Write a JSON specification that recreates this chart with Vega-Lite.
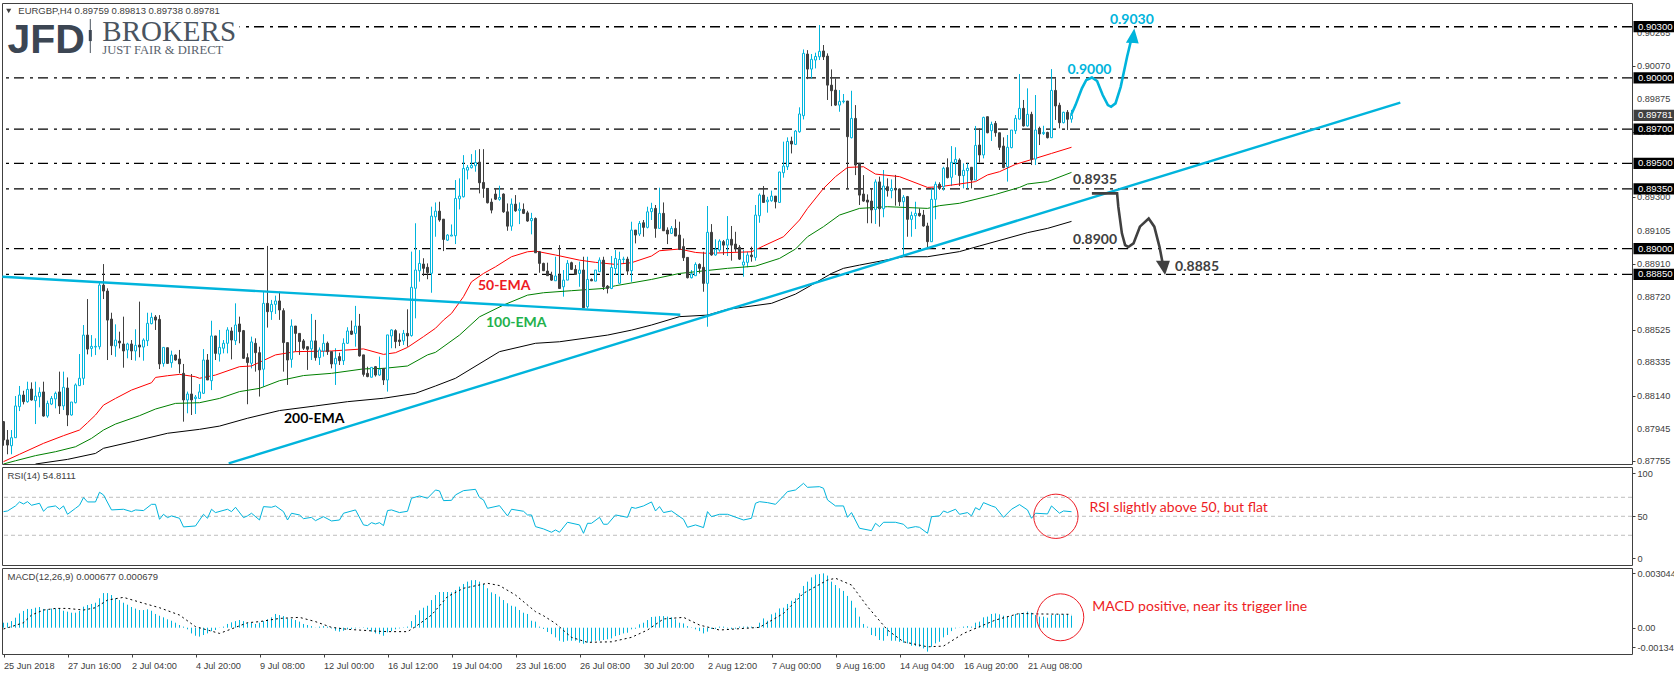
{"$schema":"https://vega.github.io/schema/vega-lite/v6.json","background":"#ffffff","padding":{"left":0,"top":2,"right":0,"bottom":0},"autosize":{"type":"pad"},"bounds":"flush","spacing":3,
"config":{"scale":{"continuousPadding":0},"view":{"stroke":"#404040","strokeWidth":1},"axis":{"grid":false,"title":null,"domain":false,"tickColor":"#404040","tickSize":3,"labelColor":"#404040","labelFont":"Liberation Sans","labelFontSize":9.2,"labelOverlap":false,"labelPadding":2},"text":{"font":"Liberation Sans"}},
"datasets":{
"bars":[
{"i":0,"o":0.87987,"h":0.87991,"l":0.87846,"c":0.8788,"m":0.00028},{"i":1,"o":0.8788,"h":0.87938,"l":0.87796,"c":0.8785,"m":0.00028},{"i":2,"o":0.87846,"h":0.87938,"l":0.87796,"c":0.87893,"m":0.00037},{"i":3,"o":0.87893,"h":0.88137,"l":0.87893,"c":0.88079,"m":0.00056},{"i":4,"o":0.88075,"h":0.88196,"l":0.88049,"c":0.88143,"m":0.0008},{"i":5,"o":0.88143,"h":0.88168,"l":0.88088,"c":0.88104,"m":0.00094},{"i":6,"o":0.88104,"h":0.88221,"l":0.88098,"c":0.88176,"m":0.00105},{"i":7,"o":0.88178,"h":0.88217,"l":0.8811,"c":0.88114,"m":0.00105},{"i":8,"o":0.8811,"h":0.88221,"l":0.87973,"c":0.88137,"m":0.00112},{"i":9,"o":0.88133,"h":0.88188,"l":0.88071,"c":0.88159,"m":0.00116},
{"i":10,"o":0.88161,"h":0.88221,"l":0.88016,"c":0.8802,"m":0.00105},{"i":11,"o":0.8802,"h":0.8811,"l":0.8801,"c":0.88094,"m":0.00103},{"i":12,"o":0.8809,"h":0.88137,"l":0.88084,"c":0.88123,"m":0.00107},{"i":13,"o":0.8812,"h":0.88163,"l":0.88065,"c":0.88153,"m":0.00108},{"i":14,"o":0.88161,"h":0.8828,"l":0.88032,"c":0.88079,"m":0.00105},{"i":15,"o":0.88079,"h":0.8828,"l":0.88055,"c":0.88188,"m":0.00095},{"i":16,"o":0.88184,"h":0.88246,"l":0.87961,"c":0.88026,"m":0.0009},{"i":17,"o":0.88026,"h":0.88102,"l":0.88022,"c":0.88102,"m":0.00084},{"i":18,"o":0.88098,"h":0.88211,"l":0.88094,"c":0.88202,"m":0.00084},{"i":19,"o":0.88198,"h":0.88383,"l":0.88196,"c":0.88241,"m":0.00094},
{"i":20,"o":0.88241,"h":0.88553,"l":0.88202,"c":0.88494,"m":0.00118},{"i":21,"o":0.88494,"h":0.88705,"l":0.88381,"c":0.88412,"m":0.00127},{"i":22,"o":0.88416,"h":0.88494,"l":0.88367,"c":0.88428,"m":0.00133},{"i":23,"o":0.88424,"h":0.88475,"l":0.88377,"c":0.88428,"m":0.0014},{"i":24,"o":0.88426,"h":0.88801,"l":0.8841,"c":0.88787,"m":0.00165},{"i":25,"o":0.88787,"h":0.8891,"l":0.88705,"c":0.88752,"m":0.00194},{"i":26,"o":0.88752,"h":0.88768,"l":0.88348,"c":0.88582,"m":0.00194},{"i":27,"o":0.88588,"h":0.88625,"l":0.88377,"c":0.88432,"m":0.00183},{"i":28,"o":0.8843,"h":0.88557,"l":0.88367,"c":0.88465,"m":0.00165},{"i":29,"o":0.88459,"h":0.88514,"l":0.88416,"c":0.88448,"m":0.00155},
{"i":30,"o":0.88442,"h":0.88602,"l":0.88303,"c":0.88401,"m":0.0014},{"i":31,"o":0.88407,"h":0.88449,"l":0.88358,"c":0.88442,"m":0.00129},{"i":32,"o":0.88442,"h":0.88465,"l":0.88348,"c":0.88401,"m":0.00116},{"i":33,"o":0.88401,"h":0.88528,"l":0.88344,"c":0.88434,"m":0.00107},{"i":34,"o":0.88436,"h":0.8869,"l":0.88364,"c":0.88424,"m":0.00099},{"i":35,"o":0.88424,"h":0.88475,"l":0.88344,"c":0.88465,"m":0.00099},{"i":36,"o":0.88461,"h":0.88625,"l":0.8843,"c":0.88563,"m":0.00103},{"i":37,"o":0.88561,"h":0.88625,"l":0.88557,"c":0.88598,"m":0.00095},{"i":38,"o":0.886,"h":0.88611,"l":0.88524,"c":0.88582,"m":0.00077},{"i":39,"o":0.88586,"h":0.88611,"l":0.88295,"c":0.88325,"m":0.00067},
{"i":40,"o":0.88328,"h":0.88422,"l":0.88309,"c":0.88422,"m":0.00058},{"i":41,"o":0.8842,"h":0.8842,"l":0.88325,"c":0.88328,"m":0.00047},{"i":42,"o":0.88332,"h":0.88403,"l":0.88303,"c":0.88377,"m":0.00039},{"i":43,"o":0.88377,"h":0.88381,"l":0.88344,"c":0.88348,"m":0.00028},{"i":44,"o":0.88354,"h":0.88407,"l":0.8827,"c":0.88325,"m":0.00015},{"i":45,"o":0.8827,"h":0.88325,"l":0.87987,"c":0.88114,"m":0.00006},{"i":46,"o":0.88114,"h":0.88163,"l":0.88036,"c":0.88149,"m":-0.00009},{"i":47,"o":0.88149,"h":0.88266,"l":0.88026,"c":0.88114,"m":-0.00032},{"i":48,"o":0.88122,"h":0.88143,"l":0.88032,"c":0.88131,"m":-0.00045},{"i":49,"o":0.88123,"h":0.88207,"l":0.88123,"c":0.88161,"m":-0.0005},
{"i":50,"o":0.88153,"h":0.88412,"l":0.88149,"c":0.88348,"m":-0.00041},{"i":51,"o":0.88348,"h":0.88383,"l":0.88231,"c":0.88231,"m":-0.00032},{"i":52,"o":0.88227,"h":0.88578,"l":0.88172,"c":0.88489,"m":-0.00019},{"i":53,"o":0.88489,"h":0.88489,"l":0.88348,"c":0.88387,"m":-0.00013},{"i":54,"o":0.88383,"h":0.88524,"l":0.88339,"c":0.88422,"m":0.00001},{"i":55,"o":0.88417,"h":0.88465,"l":0.88387,"c":0.88446,"m":0.00006},{"i":56,"o":0.88446,"h":0.8854,"l":0.88387,"c":0.88524,"m":0.00021},{"i":57,"o":0.88518,"h":0.8854,"l":0.88352,"c":0.88465,"m":0.0003},{"i":58,"o":0.88461,"h":0.8868,"l":0.88436,"c":0.88553,"m":0.00037},{"i":59,"o":0.88559,"h":0.88602,"l":0.88446,"c":0.88514,"m":0.00043},
{"i":60,"o":0.8852,"h":0.88524,"l":0.88354,"c":0.88358,"m":0.00037},{"i":61,"o":0.88362,"h":0.88387,"l":0.88089,"c":0.88333,"m":0.00028},{"i":62,"o":0.88329,"h":0.88485,"l":0.88299,"c":0.88454,"m":0.00028},{"i":63,"o":0.88446,"h":0.88475,"l":0.8828,"c":0.88391,"m":0.00021},{"i":64,"o":0.88391,"h":0.88426,"l":0.88134,"c":0.8829,"m":0.00028},{"i":65,"o":0.88294,"h":0.88748,"l":0.88192,"c":0.8868,"m":0.00037},{"i":66,"o":0.8868,"h":0.89016,"l":0.88538,"c":0.88631,"m":0.00047},{"i":67,"o":0.88631,"h":0.887,"l":0.88583,"c":0.88674,"m":0.00058},{"i":68,"o":0.88674,"h":0.88725,"l":0.88618,"c":0.88694,"m":0.00077},{"i":69,"o":0.88694,"h":0.88748,"l":0.88583,"c":0.88641,"m":0.00071},
{"i":70,"o":0.88637,"h":0.88651,"l":0.8828,"c":0.8845,"m":0.00065},{"i":71,"o":0.8845,"h":0.8845,"l":0.88202,"c":0.88348,"m":0.00052},{"i":72,"o":0.88352,"h":0.88586,"l":0.88303,"c":0.88547,"m":0.00049},{"i":73,"o":0.88547,"h":0.88547,"l":0.88397,"c":0.88504,"m":0.00043},{"i":74,"o":0.88504,"h":0.88504,"l":0.88378,"c":0.88456,"m":0.00034},{"i":75,"o":0.8846,"h":0.88471,"l":0.88407,"c":0.88417,"m":0.00021},{"i":76,"o":0.88426,"h":0.88426,"l":0.8829,"c":0.88411,"m":0.00015},{"i":77,"o":0.88413,"h":0.88618,"l":0.88348,"c":0.8846,"m":0.00009},{"i":78,"o":0.8846,"h":0.88583,"l":0.88344,"c":0.88362,"m":0.00001},{"i":79,"o":0.88362,"h":0.88422,"l":0.88319,"c":0.88407,"m":0.00006},
{"i":80,"o":0.88401,"h":0.88499,"l":0.88368,"c":0.88446,"m":0.00009},{"i":81,"o":0.88446,"h":0.88456,"l":0.88378,"c":0.88397,"m":0.00006},{"i":82,"o":0.88397,"h":0.88397,"l":0.88299,"c":0.88325,"m":-0.00004},{"i":83,"o":0.88325,"h":0.88417,"l":0.88202,"c":0.88358,"m":-0.00017},{"i":84,"o":0.88368,"h":0.88391,"l":0.88319,"c":0.88344,"m":-0.00022},{"i":85,"o":0.88344,"h":0.88475,"l":0.88319,"c":0.88446,"m":-0.00017},{"i":86,"o":0.88446,"h":0.8854,"l":0.88442,"c":0.88518,"m":-0.00009},{"i":87,"o":0.88518,"h":0.88579,"l":0.88495,"c":0.88499,"m":-0.00007},{"i":88,"o":0.88504,"h":0.88665,"l":0.88426,"c":0.88547,"m":-0.00004},{"i":89,"o":0.88547,"h":0.88618,"l":0.88368,"c":0.88372,"m":-0.00001},
{"i":90,"o":0.88378,"h":0.88378,"l":0.88251,"c":0.88264,"m":0.00002},{"i":91,"o":0.8827,"h":0.88309,"l":0.88247,"c":0.88251,"m":-0.00009},{"i":92,"o":0.88247,"h":0.88305,"l":0.88247,"c":0.88305,"m":-0.00022},{"i":93,"o":0.88309,"h":0.88313,"l":0.88251,"c":0.8826,"m":-0.00032},{"i":94,"o":0.8826,"h":0.88368,"l":0.88255,"c":0.88294,"m":-0.00036},{"i":95,"o":0.88299,"h":0.88299,"l":0.88202,"c":0.88231,"m":-0.00045},{"i":96,"o":0.88231,"h":0.88495,"l":0.88163,"c":0.88495,"m":-0.00026},{"i":97,"o":0.88489,"h":0.88528,"l":0.88417,"c":0.88524,"m":-0.00019},{"i":98,"o":0.8852,"h":0.88528,"l":0.88417,"c":0.88456,"m":-0.00009},{"i":99,"o":0.88465,"h":0.88504,"l":0.8843,"c":0.88456,"m":-0.00004},
{"i":100,"o":0.8846,"h":0.88524,"l":0.88436,"c":0.88504,"m":0.00002},{"i":101,"o":0.88504,"h":0.88645,"l":0.88426,"c":0.88489,"m":0.00006},{"i":102,"o":0.88491,"h":0.88983,"l":0.88485,"c":0.88774,"m":0.00037},{"i":103,"o":0.88768,"h":0.89149,"l":0.88592,"c":0.88875,"m":0.00071},{"i":104,"o":0.88871,"h":0.88992,"l":0.88807,"c":0.88914,"m":0.00097},{"i":105,"o":0.8891,"h":0.88944,"l":0.8884,"c":0.88885,"m":0.00112},{"i":106,"o":0.88891,"h":0.88914,"l":0.88821,"c":0.8886,"m":0.00123},{"i":107,"o":0.88856,"h":0.89246,"l":0.88742,"c":0.89191,"m":0.00155},{"i":108,"o":0.89187,"h":0.89271,"l":0.8907,"c":0.8922,"m":0.00183},{"i":109,"o":0.8922,"h":0.89275,"l":0.89158,"c":0.89168,"m":0.002},
{"i":110,"o":0.89173,"h":0.89173,"l":0.88986,"c":0.89054,"m":0.002},{"i":111,"o":0.8905,"h":0.89085,"l":0.89045,"c":0.8908,"m":0.002},{"i":112,"o":0.89074,"h":0.89142,"l":0.89074,"c":0.8908,"m":0.00198},{"i":113,"o":0.89076,"h":0.89402,"l":0.89027,"c":0.89294,"m":0.00211},{"i":114,"o":0.89292,"h":0.89412,"l":0.8923,"c":0.89308,"m":0.0023},{"i":115,"o":0.89304,"h":0.89548,"l":0.893,"c":0.8947,"m":0.00245},{"i":116,"o":0.8946,"h":0.8949,"l":0.89406,"c":0.89476,"m":0.00258},{"i":117,"o":0.89474,"h":0.89554,"l":0.8947,"c":0.89488,"m":0.00266},{"i":118,"o":0.89486,"h":0.89577,"l":0.89451,"c":0.89505,"m":0.00267},{"i":119,"o":0.89507,"h":0.89583,"l":0.89324,"c":0.89386,"m":0.00258},
{"i":120,"o":0.89388,"h":0.89583,"l":0.89298,"c":0.89353,"m":0.00245},{"i":121,"o":0.89353,"h":0.89353,"l":0.89265,"c":0.89269,"m":0.00221},{"i":122,"o":0.89273,"h":0.89294,"l":0.89207,"c":0.89226,"m":0.00198},{"i":123,"o":0.8932,"h":0.89349,"l":0.89285,"c":0.8929,"m":0.00189},{"i":124,"o":0.89289,"h":0.89369,"l":0.89281,"c":0.893,"m":0.00174},{"i":125,"o":0.8932,"h":0.89324,"l":0.8921,"c":0.89216,"m":0.00155},{"i":126,"o":0.89216,"h":0.89265,"l":0.89105,"c":0.89132,"m":0.00137},{"i":127,"o":0.89132,"h":0.89294,"l":0.89105,"c":0.89261,"m":0.00123},{"i":128,"o":0.89261,"h":0.89314,"l":0.89216,"c":0.89222,"m":0.00118},{"i":129,"o":0.89224,"h":0.89271,"l":0.89144,"c":0.89232,"m":0.00099},
{"i":130,"o":0.8923,"h":0.89265,"l":0.89203,"c":0.89207,"m":0.00084},{"i":131,"o":0.8921,"h":0.89222,"l":0.89158,"c":0.89162,"m":0.00077},{"i":132,"o":0.89164,"h":0.8921,"l":0.89084,"c":0.89177,"m":0.00039},{"i":133,"o":0.89177,"h":0.89183,"l":0.88976,"c":0.88976,"m":0.00034},{"i":134,"o":0.88982,"h":0.88986,"l":0.88859,"c":0.88914,"m":0.00006},{"i":135,"o":0.88914,"h":0.88918,"l":0.88869,"c":0.88871,"m":-0.00007},{"i":136,"o":0.88869,"h":0.88918,"l":0.88842,"c":0.88842,"m":-0.00024},{"i":137,"o":0.88846,"h":0.88865,"l":0.88812,"c":0.88816,"m":-0.00036},{"i":138,"o":0.88812,"h":0.88953,"l":0.88812,"c":0.8884,"m":-0.00054},{"i":139,"o":0.88846,"h":0.89021,"l":0.88767,"c":0.88767,"m":-0.00073},
{"i":140,"o":0.88777,"h":0.88875,"l":0.88719,"c":0.88816,"m":-0.00079},{"i":141,"o":0.88816,"h":0.88933,"l":0.88816,"c":0.88914,"m":-0.00073},{"i":142,"o":0.88918,"h":0.88924,"l":0.88875,"c":0.88879,"m":-0.00073},{"i":143,"o":0.88879,"h":0.88904,"l":0.88846,"c":0.88849,"m":-0.00073},{"i":144,"o":0.88855,"h":0.88924,"l":0.88777,"c":0.88875,"m":-0.00084},{"i":145,"o":0.88875,"h":0.88953,"l":0.88654,"c":0.88654,"m":-0.0009},{"i":146,"o":0.8866,"h":0.88953,"l":0.8865,"c":0.8882,"m":-0.00084},{"i":147,"o":0.8882,"h":0.88826,"l":0.8881,"c":0.88812,"m":-0.00079},{"i":148,"o":0.8881,"h":0.88875,"l":0.8881,"c":0.88875,"m":-0.00073},{"i":149,"o":0.88865,"h":0.88949,"l":0.88865,"c":0.88933,"m":-0.00073},
{"i":150,"o":0.88933,"h":0.88953,"l":0.88758,"c":0.88777,"m":-0.00069},{"i":151,"o":0.88781,"h":0.88787,"l":0.88738,"c":0.88767,"m":-0.00065},{"i":152,"o":0.88767,"h":0.88957,"l":0.88763,"c":0.8889,"m":-0.0006},{"i":153,"o":0.88884,"h":0.88992,"l":0.88846,"c":0.88943,"m":-0.00047},{"i":154,"o":0.88797,"h":0.88982,"l":0.88797,"c":0.88937,"m":-0.00041},{"i":155,"o":0.88937,"h":0.88953,"l":0.8891,"c":0.88939,"m":-0.00032},{"i":156,"o":0.88939,"h":0.88953,"l":0.88846,"c":0.88869,"m":-0.00028},{"i":157,"o":0.88871,"h":0.89158,"l":0.88806,"c":0.89109,"m":-0.00009},{"i":158,"o":0.89109,"h":0.89109,"l":0.89031,"c":0.8908,"m":-0.00006},{"i":159,"o":0.89086,"h":0.89162,"l":0.89074,"c":0.89148,"m":0.00019},
{"i":160,"o":0.89152,"h":0.89168,"l":0.8907,"c":0.89125,"m":0.00028},{"i":161,"o":0.89125,"h":0.89246,"l":0.89119,"c":0.89216,"m":0.00043},{"i":162,"o":0.89217,"h":0.89269,"l":0.89168,"c":0.89236,"m":0.0006},{"i":163,"o":0.89236,"h":0.89256,"l":0.89064,"c":0.89119,"m":0.00062},{"i":164,"o":0.89119,"h":0.89357,"l":0.89119,"c":0.89207,"m":0.00065},{"i":165,"o":0.89207,"h":0.89271,"l":0.89105,"c":0.89105,"m":0.00065},{"i":166,"o":0.89109,"h":0.89125,"l":0.89027,"c":0.89086,"m":0.00062},{"i":167,"o":0.8909,"h":0.89133,"l":0.89086,"c":0.89119,"m":0.00058},{"i":168,"o":0.89119,"h":0.89172,"l":0.89074,"c":0.89074,"m":0.00047},{"i":169,"o":0.8908,"h":0.89158,"l":0.88992,"c":0.88996,"m":0.00028},
{"i":170,"o":0.89012,"h":0.8906,"l":0.88928,"c":0.88947,"m":0.00024},{"i":171,"o":0.88949,"h":0.88949,"l":0.88826,"c":0.8883,"m":0.00009},{"i":172,"o":0.8883,"h":0.88875,"l":0.88826,"c":0.88852,"m":0.00002},{"i":173,"o":0.88842,"h":0.8892,"l":0.88842,"c":0.88908,"m":-0.00009},{"i":174,"o":0.88908,"h":0.88914,"l":0.88855,"c":0.88885,"m":-0.00019},{"i":175,"o":0.88891,"h":0.88982,"l":0.88748,"c":0.88797,"m":-0.00032},{"i":176,"o":0.88797,"h":0.8925,"l":0.88543,"c":0.89096,"m":-0.00022},{"i":177,"o":0.89096,"h":0.89144,"l":0.88959,"c":0.88963,"m":-0.00007},{"i":178,"o":0.88963,"h":0.89055,"l":0.88959,"c":0.88996,"m":-0.00007},{"i":179,"o":0.88992,"h":0.89055,"l":0.88982,"c":0.89045,"m":0.00006},
{"i":180,"o":0.89041,"h":0.89051,"l":0.88963,"c":0.89021,"m":0.00006},{"i":181,"o":0.89021,"h":0.89191,"l":0.88957,"c":0.89055,"m":-0.00004},{"i":182,"o":0.89055,"h":0.89133,"l":0.8893,"c":0.89021,"m":-0.00007},{"i":183,"o":0.89027,"h":0.89099,"l":0.88982,"c":0.89002,"m":-0.00006},{"i":184,"o":0.89008,"h":0.89021,"l":0.88934,"c":0.88939,"m":0.00006},{"i":185,"o":0.88904,"h":0.88992,"l":0.88836,"c":0.88922,"m":0.00006},{"i":186,"o":0.8892,"h":0.88982,"l":0.88891,"c":0.88963,"m":0.00006},{"i":187,"o":0.88963,"h":0.89012,"l":0.88924,"c":0.88953,"m":0.00006},{"i":188,"o":0.88949,"h":0.89256,"l":0.8893,"c":0.89197,"m":0.00002},{"i":189,"o":0.89193,"h":0.89324,"l":0.89152,"c":0.89314,"m":0.00028},
{"i":190,"o":0.89314,"h":0.89367,"l":0.89269,"c":0.89271,"m":0.00052},{"i":191,"o":0.89275,"h":0.89304,"l":0.89211,"c":0.89285,"m":0.00039},{"i":192,"o":0.89281,"h":0.8934,"l":0.89275,"c":0.89308,"m":0.00075},{"i":193,"o":0.89308,"h":0.89308,"l":0.89236,"c":0.89275,"m":0.00084},{"i":194,"o":0.89271,"h":0.89451,"l":0.89269,"c":0.89449,"m":0.00108},{"i":195,"o":0.89445,"h":0.89627,"l":0.89416,"c":0.89484,"m":0.00112},{"i":196,"o":0.8948,"h":0.89652,"l":0.89461,"c":0.89628,"m":0.00133},{"i":197,"o":0.8963,"h":0.89656,"l":0.89558,"c":0.89613,"m":0.00151},{"i":198,"o":0.89611,"h":0.89695,"l":0.89607,"c":0.89689,"m":0.00165},{"i":199,"o":0.89685,"h":0.89828,"l":0.89679,"c":0.89789,"m":0.00193},
{"i":200,"o":0.89779,"h":0.90167,"l":0.89757,"c":0.90144,"m":0.00234},{"i":201,"o":0.9014,"h":0.90163,"l":0.89993,"c":0.90052,"m":0.00258},{"i":202,"o":0.90052,"h":0.9014,"l":0.89997,"c":0.90109,"m":0.00282},{"i":203,"o":0.90105,"h":0.90148,"l":0.90056,"c":0.90126,"m":0.00297},{"i":204,"o":0.90124,"h":0.9031,"l":0.90105,"c":0.90156,"m":0.00301},{"i":205,"o":0.90158,"h":0.90193,"l":0.90105,"c":0.90124,"m":0.003044},{"i":206,"o":0.90128,"h":0.90144,"l":0.89871,"c":0.89958,"m":0.00292},{"i":207,"o":0.89958,"h":0.9005,"l":0.89835,"c":0.89925,"m":0.00258},{"i":208,"o":0.89929,"h":0.89997,"l":0.89837,"c":0.89841,"m":0.00239},{"i":209,"o":0.89841,"h":0.89929,"l":0.89802,"c":0.89863,"m":0.00221},
{"i":210,"o":0.89861,"h":0.89906,"l":0.89851,"c":0.89865,"m":0.00206},{"i":211,"o":0.89865,"h":0.89865,"l":0.89353,"c":0.89656,"m":0.00178},{"i":212,"o":0.8965,"h":0.89925,"l":0.89646,"c":0.89763,"m":0.00151},{"i":213,"o":0.89763,"h":0.89841,"l":0.89431,"c":0.8949,"m":0.00112},{"i":214,"o":0.895,"h":0.895,"l":0.89256,"c":0.89314,"m":0.00062},{"i":215,"o":0.8932,"h":0.89431,"l":0.89275,"c":0.89279,"m":0.00021},{"i":216,"o":0.89285,"h":0.89318,"l":0.89149,"c":0.89273,"m":0.00006},{"i":217,"o":0.89279,"h":0.89353,"l":0.89149,"c":0.89227,"m":-0.00041},{"i":218,"o":0.8923,"h":0.89406,"l":0.89145,"c":0.89391,"m":-0.00047},{"i":219,"o":0.89391,"h":0.89422,"l":0.89129,"c":0.89234,"m":-0.00069},
{"i":220,"o":0.89234,"h":0.89461,"l":0.89184,"c":0.89367,"m":-0.00073},{"i":221,"o":0.89363,"h":0.89412,"l":0.89305,"c":0.8934,"m":-0.00047},{"i":222,"o":0.8934,"h":0.89406,"l":0.89295,"c":0.89353,"m":-0.00073},{"i":223,"o":0.89353,"h":0.89432,"l":0.89252,"c":0.89344,"m":-0.00073},{"i":224,"o":0.8935,"h":0.89353,"l":0.8925,"c":0.89275,"m":-0.00079},{"i":225,"o":0.89275,"h":0.89314,"l":0.88953,"c":0.89301,"m":-0.00084},{"i":226,"o":0.89305,"h":0.89309,"l":0.8907,"c":0.89172,"m":-0.00088},{"i":227,"o":0.89172,"h":0.89217,"l":0.8907,"c":0.89195,"m":-0.00101},{"i":228,"o":0.89193,"h":0.89275,"l":0.89115,"c":0.89207,"m":-0.00103},{"i":229,"o":0.89207,"h":0.89236,"l":0.89188,"c":0.89193,"m":-0.00107},
{"i":230,"o":0.89197,"h":0.89227,"l":0.89129,"c":0.89133,"m":-0.00116},{"i":231,"o":0.89133,"h":0.89152,"l":0.89006,"c":0.89041,"m":-0.00134},{"i":232,"o":0.89041,"h":0.89353,"l":0.89041,"c":0.89289,"m":-0.00107},{"i":233,"o":0.89289,"h":0.89393,"l":0.89172,"c":0.89377,"m":-0.00088},{"i":234,"o":0.89377,"h":0.89389,"l":0.89344,"c":0.89353,"m":-0.00079},{"i":235,"o":0.89363,"h":0.8948,"l":0.8934,"c":0.89471,"m":-0.00054},{"i":236,"o":0.89475,"h":0.89529,"l":0.89412,"c":0.89416,"m":-0.00041},{"i":237,"o":0.89418,"h":0.89601,"l":0.89367,"c":0.89506,"m":-0.00019},{"i":238,"o":0.89504,"h":0.89594,"l":0.89432,"c":0.89523,"m":-0.00004},{"i":239,"o":0.89519,"h":0.89529,"l":0.89367,"c":0.89428,"m":-0.00001},
{"i":240,"o":0.89428,"h":0.895,"l":0.89353,"c":0.89459,"m":0.00006},{"i":241,"o":0.89457,"h":0.895,"l":0.89353,"c":0.89471,"m":0.00009},{"i":242,"o":0.89477,"h":0.89477,"l":0.89353,"c":0.89402,"m":0.00006},{"i":243,"o":0.89402,"h":0.89719,"l":0.89402,"c":0.89605,"m":0.00028},{"i":244,"o":0.89607,"h":0.89705,"l":0.89504,"c":0.89549,"m":0.00034},{"i":245,"o":0.89549,"h":0.89773,"l":0.89529,"c":0.89769,"m":0.00058},{"i":246,"o":0.89773,"h":0.89773,"l":0.89676,"c":0.89679,"m":0.00062},{"i":247,"o":0.89691,"h":0.89744,"l":0.89631,"c":0.89728,"m":0.00077},{"i":248,"o":0.89734,"h":0.89748,"l":0.89656,"c":0.89679,"m":0.0008},{"i":249,"o":0.89679,"h":0.89679,"l":0.89578,"c":0.89594,"m":0.00075},
{"i":250,"o":0.89601,"h":0.89652,"l":0.89471,"c":0.89475,"m":0.00067},{"i":251,"o":0.8948,"h":0.89666,"l":0.89393,"c":0.89594,"m":0.00062},{"i":252,"o":0.89592,"h":0.89695,"l":0.89588,"c":0.89695,"m":0.00065},{"i":253,"o":0.89691,"h":0.89783,"l":0.89672,"c":0.89763,"m":0.00077},{"i":254,"o":0.89759,"h":0.90023,"l":0.89757,"c":0.89822,"m":0.0008},{"i":255,"o":0.89822,"h":0.89871,"l":0.89715,"c":0.89719,"m":0.00084},{"i":256,"o":0.89719,"h":0.89939,"l":0.89715,"c":0.89787,"m":0.0009},{"i":257,"o":0.89787,"h":0.89802,"l":0.8949,"c":0.89523,"m":0.00084},{"i":258,"o":0.89525,"h":0.899,"l":0.8949,"c":0.89695,"m":0.00071},{"i":259,"o":0.89705,"h":0.89715,"l":0.89607,"c":0.89672,"m":0.00062},
{"i":260,"o":0.89674,"h":0.8972,"l":0.89666,"c":0.89681,"m":0.00062},{"i":261,"o":0.89681,"h":0.89685,"l":0.89646,"c":0.8965,"m":0.00056},{"i":262,"o":0.8965,"h":0.90052,"l":0.8965,"c":0.89927,"m":0.00071},{"i":263,"o":0.89927,"h":0.89998,"l":0.89754,"c":0.89836,"m":0.00075},{"i":264,"o":0.8984,"h":0.89855,"l":0.89705,"c":0.89738,"m":0.00075},{"i":265,"o":0.89738,"h":0.89802,"l":0.89734,"c":0.89799,"m":0.00075},{"i":266,"o":0.89799,"h":0.89812,"l":0.89695,"c":0.89758,"m":0.00075},{"i":267,"o":0.89759,"h":0.89813,"l":0.89738,"c":0.89781,"m":0.000677}],
"ema":[
{"s":"50","i":0,"p":0.87753},{"s":"50","i":4,"p":0.87796},{"s":"50","i":10,"p":0.8786},{"s":"50","i":15,"p":0.87905},{"s":"50","i":19,"p":0.87938},{"s":"50","i":21,"p":0.87981},{"s":"50","i":23,"p":0.88026},{"s":"50","i":25,"p":0.88084},{"s":"50","i":28,"p":0.88123},{"s":"50","i":32,"p":0.88172},{"s":"50","i":37,"p":0.88215},{"s":"50","i":38,"p":0.88246},{"s":"50","i":41,"p":0.88256},{"s":"50","i":44,"p":0.88264},{"s":"50","i":48,"p":0.8825},{"s":"50","i":49,"p":0.88241},{"s":"50","i":53,"p":0.8826},{"s":"50","i":59,"p":0.88309},{"s":"50","i":62,"p":0.88313},{"s":"50","i":68,"p":0.88378},{"s":"50","i":73,"p":0.88397},{"s":"50","i":82,"p":0.88401},{"s":"50","i":90,"p":0.88413},{"s":"50","i":95,"p":0.88381},{"s":"50","i":98,"p":0.88391},{"s":"50","i":101,"p":0.88422},{"s":"50","i":105,"p":0.88485},{"s":"50","i":108,"p":0.88534},{"s":"50","i":110,"p":0.88582},{"s":"50","i":112,"p":0.88621},{"s":"50","i":115,"p":0.88719},{"s":"50","i":117,"p":0.88806},{"s":"50","i":120,"p":0.88855},{"s":"50","i":123,"p":0.88894},{"s":"50","i":127,"p":0.88953},{"s":"50","i":131,"p":0.88982},{"s":"50","i":133,"p":0.88986},{"s":"50","i":138,"p":0.88963},{"s":"50","i":144,"p":0.88933},{"s":"50","i":148,"p":0.8892},{"s":"50","i":153,"p":0.88908},{"s":"50","i":157,"p":0.88918},{"s":"50","i":162,"p":0.88957},{"s":"50","i":164,"p":0.88988},{"s":"50","i":169,"p":0.88998},{"s":"50","i":173,"p":0.88978},{"s":"50","i":176,"p":0.88973},{"s":"50","i":187,"p":0.88982},{"s":"50","i":190,"p":0.89016},{"s":"50","i":195,"p":0.8907},{"s":"50","i":199,"p":0.89168},{"s":"50","i":201,"p":0.89236},{"s":"50","i":205,"p":0.89353},{"s":"50","i":208,"p":0.89422},{"s":"50","i":211,"p":0.89476},{"s":"50","i":215,"p":0.8948},{"s":"50","i":218,"p":0.89437},{"s":"50","i":224,"p":0.89422},{"s":"50","i":231,"p":0.89359},{"s":"50","i":234,"p":0.89363},{"s":"50","i":239,"p":0.89379},{"s":"50","i":243,"p":0.89393},{"s":"50","i":246,"p":0.89432},{"s":"50","i":249,"p":0.89451},{"s":"50","i":253,"p":0.89494},{"s":"50","i":258,"p":0.89529},{"s":"50","i":262,"p":0.89558},{"s":"50","i":267,"p":0.89594},
{"s":"100","i":0,"p":0.87739},{"s":"100","i":3,"p":0.87758},{"s":"100","i":8,"p":0.87788},{"s":"100","i":13,"p":0.87811},{"s":"100","i":18,"p":0.8784},{"s":"100","i":22,"p":0.87889},{"s":"100","i":25,"p":0.87938},{"s":"100","i":28,"p":0.87973},{"s":"100","i":34,"p":0.88022},{"s":"100","i":38,"p":0.88061},{"s":"100","i":43,"p":0.88094},{"s":"100","i":49,"p":0.88098},{"s":"100","i":54,"p":0.88123},{"s":"100","i":59,"p":0.88163},{"s":"100","i":64,"p":0.88182},{"s":"100","i":69,"p":0.88227},{"s":"100","i":75,"p":0.88257},{"s":"100","i":82,"p":0.8827},{"s":"100","i":90,"p":0.88296},{"s":"100","i":95,"p":0.88299},{"s":"100","i":101,"p":0.88313},{"s":"100","i":106,"p":0.88378},{"s":"100","i":108,"p":0.88393},{"s":"100","i":114,"p":0.88494},{"s":"100","i":119,"p":0.88601},{"s":"100","i":125,"p":0.8867},{"s":"100","i":131,"p":0.88728},{"s":"100","i":135,"p":0.88742},{"s":"100","i":142,"p":0.88754},{"s":"100","i":150,"p":0.88767},{"s":"100","i":153,"p":0.88783},{"s":"100","i":162,"p":0.8882},{"s":"100","i":169,"p":0.88855},{"s":"100","i":181,"p":0.88885},{"s":"100","i":188,"p":0.88898},{"s":"100","i":194,"p":0.88943},{"s":"100","i":198,"p":0.88998},{"s":"100","i":201,"p":0.8907},{"s":"100","i":205,"p":0.89129},{"s":"100","i":209,"p":0.89197},{"s":"100","i":214,"p":0.89236},{"s":"100","i":221,"p":0.89246},{"s":"100","i":231,"p":0.89236},{"s":"100","i":234,"p":0.89252},{"s":"100","i":239,"p":0.89266},{"s":"100","i":248,"p":0.89318},{"s":"100","i":254,"p":0.89359},{"s":"100","i":256,"p":0.89379},{"s":"100","i":261,"p":0.89393},{"s":"100","i":267,"p":0.89447},
{"s":"200","i":8,"p":0.87739},{"s":"200","i":16,"p":0.87766},{"s":"200","i":23,"p":0.87801},{"s":"200","i":25,"p":0.87831},{"s":"200","i":33,"p":0.87874},{"s":"200","i":41,"p":0.87919},{"s":"200","i":49,"p":0.87942},{"s":"200","i":54,"p":0.87961},{"s":"200","i":61,"p":0.88007},{"s":"200","i":69,"p":0.88052},{"s":"200","i":78,"p":0.88079},{"s":"200","i":86,"p":0.88104},{"s":"200","i":95,"p":0.88124},{"s":"200","i":103,"p":0.88153},{"s":"200","i":108,"p":0.88196},{"s":"200","i":113,"p":0.88241},{"s":"200","i":124,"p":0.88397},{"s":"200","i":133,"p":0.88446},{"s":"200","i":139,"p":0.88455},{"s":"200","i":151,"p":0.88494},{"s":"200","i":157,"p":0.88523},{"s":"200","i":162,"p":0.88553},{"s":"200","i":169,"p":0.88602},{"s":"200","i":176,"p":0.88611},{"s":"200","i":181,"p":0.88645},{"s":"200","i":192,"p":0.8868},{"s":"200","i":198,"p":0.88734},{"s":"200","i":202,"p":0.88787},{"s":"200","i":207,"p":0.88855},{"s":"200","i":210,"p":0.88885},{"s":"200","i":214,"p":0.88904},{"s":"200","i":225,"p":0.88953},{"s":"200","i":231,"p":0.88953},{"s":"200","i":239,"p":0.88983},{"s":"200","i":244,"p":0.89016},{"s":"200","i":256,"p":0.89094},{"s":"200","i":261,"p":0.89119},{"s":"200","i":267,"p":0.8916}],
"trend":[{"s":"fall","i":-0.3,"p":0.88836},{"s":"fall","i":169.2,"p":0.88613},{"s":"rise","i":56.3,"p":0.87743},{"s":"rise","i":349.2,"p":0.89855}],
"paths":[{"s":"up","i":266.9,"p":0.89783},{"s":"up","i":268,"p":0.89841},{"s":"up","i":269.6,"p":0.89939},{"s":"up","i":270.7,"p":0.89988},{"s":"up","i":272.1,"p":0.90003},{"s":"up","i":273.4,"p":0.89982},{"s":"up","i":274.8,"p":0.899},{"s":"up","i":276.1,"p":0.89841},{"s":"up","i":276.9,"p":0.89831},{"s":"up","i":278,"p":0.89851},{"s":"up","i":279.3,"p":0.89948},{"s":"up","i":280.9,"p":0.90124},{"s":"up","i":281.8,"p":0.90212},
{"s":"down","i":272.1,"p":0.89324},{"s":"down","i":278.4,"p":0.89324},{"s":"down","i":278.7,"p":0.89246},{"s":"down","i":279.6,"p":0.8909},{"s":"down","i":280.4,"p":0.89021},{"s":"down","i":281.2,"p":0.8901},{"s":"down","i":282.5,"p":0.89031},{"s":"down","i":284.1,"p":0.89129},{"s":"down","i":286.3,"p":0.89177},{"s":"down","i":287.7,"p":0.89129},{"s":"down","i":289,"p":0.89011},{"s":"down","i":289.8,"p":0.88914}],
"heads":[{"s":"up","i":280.6,"p":0.90206,"q":0.90206},{"s":"up","i":282.7,"p":0.9029,"q":0.90204},{"s":"up","i":283.8,"p":0.90202,"q":0.90202},{"s":"down","i":288.1,"p":0.8893,"q":0.8893},{"s":"down","i":290.4,"p":0.8893,"q":0.88846},{"s":"down","i":291.6,"p":0.8893,"q":0.8893}],
"levels":[{"p":0.903},{"p":0.9},{"p":0.897},{"p":0.895},{"p":0.8935},{"p":0.89},{"p":0.8885}],
"ticks":[{"p":0.90265,"t":"0.90265","tx":408.4},{"p":0.9007,"t":"0.90070","tx":408.4},{"p":0.89875,"t":"0.89875","tx":408.4},{"p":0.89685,"t":"0.89685","tx":408.4},{"p":0.8949,"t":"0.89490","tx":408.4},{"p":0.893,"t":"0.89300","tx":408.4},{"p":0.89105,"t":"0.89105","tx":408.4},{"p":0.8891,"t":"0.88910","tx":408.4},{"p":0.8872,"t":"0.88720","tx":408.4},{"p":0.88525,"t":"0.88525","tx":408.4},{"p":0.88335,"t":"0.88335","tx":408.4},{"p":0.8814,"t":"0.88140","tx":408.4},{"p":0.87945,"t":"0.87945","tx":408.4},{"p":0.87755,"t":"0.87755","tx":408.4}],
"boxes":[{"a":0.90333,"b":0.90267,"p":0.903,"t":"0.90300","k":"level","x":407.5,"x2":418,"tx":408.6},{"a":0.90033,"b":0.89967,"p":0.9,"t":"0.90000","k":"level","x":407.5,"x2":418,"tx":408.6},{"a":0.89814,"b":0.89748,"p":0.89781,"t":"0.89781","k":"last","x":407.5,"x2":418,"tx":408.6},{"a":0.89733,"b":0.89667,"p":0.897,"t":"0.89700","k":"level","x":407.5,"x2":418,"tx":408.6},{"a":0.89533,"b":0.89467,"p":0.895,"t":"0.89500","k":"level","x":407.5,"x2":418,"tx":408.6},{"a":0.89383,"b":0.89317,"p":0.8935,"t":"0.89350","k":"level","x":407.5,"x2":418,"tx":408.6},{"a":0.89033,"b":0.88967,"p":0.89,"t":"0.89000","k":"level","x":407.5,"x2":418,"tx":408.6},{"a":0.88883,"b":0.88817,"p":0.8885,"t":"0.88850","k":"level","x":407.5,"x2":418,"tx":408.6}],
"notes":[{"i":276.6,"p":0.90339,"t":"0.9030","k":"up"},{"i":266,"p":0.90046,"t":"0.9000","k":"up"},{"i":267.4,"p":0.89402,"t":"0.8935","k":"down"},{"i":267.4,"p":0.89051,"t":"0.8900","k":"down"},{"i":292.9,"p":0.88895,"t":"0.8885","k":"down"},{"i":118.6,"p":0.88782,"t":"50-EMA","k":"e50"},{"i":120.6,"p":0.88567,"t":"100-EMA","k":"e100"},{"i":70.1,"p":0.88003,"t":"200-EMA","k":"e200"}],
"rsi":[{"i":0,"v":54.9},{"i":1,"v":55.6},{"i":3,"v":60.9},{"i":4,"v":65.1},{"i":5,"v":63},{"i":6,"v":65.4},{"i":7,"v":61.6},{"i":9,"v":63.7},{"i":10,"v":55.3},{"i":11,"v":59.5},{"i":13,"v":60.9},{"i":14,"v":57.4},{"i":15,"v":60.9},{"i":16,"v":52.1},{"i":18,"v":58.4},{"i":19,"v":61.6},{"i":20,"v":69.7},{"i":21,"v":65.1},{"i":23,"v":65.1},{"i":24,"v":75.3},{"i":25,"v":72.5},{"i":27,"v":56.7},{"i":30,"v":57.4},{"i":32,"v":54.9},{"i":33,"v":56.7},{"i":35,"v":56},{"i":37,"v":62.6},{"i":38,"v":62.6},{"i":39,"v":46.8},{"i":40,"v":52.1},{"i":41,"v":48.6},{"i":42,"v":50.4},{"i":44,"v":47.9},{"i":45,"v":38.8},{"i":48,"v":39.8},{"i":50,"v":52.1},{"i":51,"v":47.9},{"i":52,"v":57.4},{"i":53,"v":53.9},{"i":56,"v":57.4},{"i":57,"v":54.9},{"i":58,"v":59.5},{"i":60,"v":48.6},{"i":61,"v":50.4},{"i":62,"v":53.2},{"i":64,"v":46.1},{"i":65,"v":60.2},{"i":67,"v":59.5},{"i":68,"v":60.9},{"i":70,"v":54.9},{"i":71,"v":46.1},{"i":72,"v":53.2},{"i":74,"v":51.4},{"i":75,"v":47.5},{"i":77,"v":48.9},{"i":78,"v":45.4},{"i":80,"v":49.6},{"i":82,"v":45.1},{"i":84,"v":46.1},{"i":85,"v":53.2},{"i":88,"v":56.7},{"i":90,"v":40.9},{"i":91,"v":40.2},{"i":92,"v":43.3},{"i":93,"v":41.9},{"i":94,"v":43.3},{"i":95,"v":40.2},{"i":96,"v":56},{"i":97,"v":56.7},{"i":99,"v":53.9},{"i":101,"v":55.3},{"i":102,"v":69},{"i":104,"v":71.4},{"i":106,"v":69},{"i":108,"v":77.7},{"i":109,"v":76.7},{"i":110,"v":66.5},{"i":112,"v":66.8},{"i":113,"v":72.5},{"i":115,"v":77},{"i":118,"v":78.4},{"i":119,"v":69.7},{"i":120,"v":67.2},{"i":121,"v":58.4},{"i":124,"v":61.2},{"i":126,"v":50.4},{"i":127,"v":57.4},{"i":130,"v":55.3},{"i":131,"v":51.4},{"i":132,"v":51.4},{"i":133,"v":39.1},{"i":135,"v":36.7},{"i":137,"v":33.2},{"i":138,"v":35.6},{"i":139,"v":33.2},{"i":141,"v":43.7},{"i":144,"v":40.9},{"i":145,"v":32.1},{"i":146,"v":42.6},{"i":147,"v":42.6},{"i":149,"v":48.9},{"i":150,"v":41.6},{"i":151,"v":41.6},{"i":153,"v":51.4},{"i":156,"v":48.9},{"i":157,"v":59.5},{"i":158,"v":58.4},{"i":160,"v":60.9},{"i":162,"v":65.1},{"i":163,"v":55.6},{"i":164,"v":60.2},{"i":165,"v":53.9},{"i":167,"v":55.6},{"i":170,"v":46.8},{"i":171,"v":38.4},{"i":173,"v":40.9},{"i":175,"v":38.1},{"i":176,"v":54.9},{"i":177,"v":49.6},{"i":179,"v":52.1},{"i":181,"v":52.1},{"i":185,"v":46.1},{"i":187,"v":47.9},{"i":188,"v":63.7},{"i":189,"v":65.4},{"i":191,"v":64.4},{"i":193,"v":62.6},{"i":195,"v":71.4},{"i":196,"v":76},{"i":198,"v":77.7},{"i":200,"v":84.7},{"i":201,"v":80.5},{"i":204,"v":81.2},{"i":205,"v":79.5},{"i":206,"v":67.2},{"i":208,"v":60.9},{"i":210,"v":60.9},{"i":211,"v":48.9},{"i":212,"v":53.9},{"i":214,"v":37.4},{"i":217,"v":34.9},{"i":218,"v":42.6},{"i":219,"v":39.1},{"i":220,"v":43.7},{"i":223,"v":43.7},{"i":225,"v":41.6},{"i":226,"v":37.4},{"i":228,"v":39.1},{"i":229,"v":38.4},{"i":231,"v":32.1},{"i":232,"v":49.6},{"i":234,"v":50.4},{"i":235,"v":55.6},{"i":236,"v":53.9},{"i":238,"v":57.4},{"i":239,"v":52.1},{"i":241,"v":53.9},{"i":242,"v":50.4},{"i":243,"v":59.1},{"i":244,"v":56.7},{"i":245,"v":64.4},{"i":247,"v":60.9},{"i":248,"v":59.5},{"i":250,"v":48.9},{"i":252,"v":57.4},{"i":254,"v":62.3},{"i":256,"v":56.7},{"i":257,"v":47.9},{"i":258,"v":53.2},{"i":261,"v":52.5},{"i":262,"v":60.9},{"i":264,"v":53.2},{"i":265,"v":55.6},{"i":267,"v":54.81}],
"signal":[{"i":0,"v":-0.00007},{"i":2,"v":0.00006},{"i":5,"v":0.00028},{"i":7,"v":0.00071},{"i":10,"v":0.00099},{"i":13,"v":0.00108},{"i":16,"v":0.00108},{"i":20,"v":0.00099},{"i":23,"v":0.00112},{"i":26,"v":0.00155},{"i":30,"v":0.0017},{"i":35,"v":0.00137},{"i":39,"v":0.00112},{"i":44,"v":0.00071},{"i":48,"v":0.00006},{"i":51,"v":-0.00013},{"i":54,"v":-0.00032},{"i":57,"v":-0.00007},{"i":61,"v":0.00028},{"i":64,"v":0.00034},{"i":69,"v":0.00052},{"i":74,"v":0.00058},{"i":78,"v":0.00034},{"i":82,"v":0.00002},{"i":86,"v":-0.00009},{"i":93,"v":-0.00019},{"i":96,"v":-0.00022},{"i":101,"v":-0.00022},{"i":103,"v":0.00006},{"i":107,"v":0.00071},{"i":111,"v":0.00174},{"i":115,"v":0.00221},{"i":121,"v":0.00249},{"i":124,"v":0.00236},{"i":128,"v":0.00183},{"i":133,"v":0.0009},{"i":135,"v":0.00067},{"i":138,"v":0.00024},{"i":142,"v":-0.00054},{"i":146,"v":-0.00082},{"i":152,"v":-0.00079},{"i":157,"v":-0.00054},{"i":161,"v":-0.00013},{"i":165,"v":0.00049},{"i":170,"v":0.00058},{"i":174,"v":0.00015},{"i":179,"v":-0.00013},{"i":183,"v":-0.00007},{"i":189,"v":0.00002},{"i":195,"v":0.0008},{"i":200,"v":0.00193},{"i":206,"v":0.00267},{"i":208,"v":0.00277},{"i":212,"v":0.00239},{"i":216,"v":0.00118},{"i":221,"v":-0.00013},{"i":225,"v":-0.00079},{"i":231,"v":-0.00107},{"i":235,"v":-0.00103},{"i":240,"v":-0.00032},{"i":248,"v":0.00043},{"i":254,"v":0.0008},{"i":259,"v":0.00077},{"i":267,"v":0.00075}]
},
"vconcat":[
{"width":1630,"height":461,"resolve":{"scale":{"color":"independent"}},"layer":[
{"data":{"name":"levels"},"mark":{"type":"rule","color":"#000000","strokeWidth":1.3,"strokeDash":[10,5,3,6]},"encoding":{"y":{"field":"p","type":"quantitative","scale":{"domain":[0.87739,0.90439]},"axis":{"title":null,"orient":"right","labels":false,"values":[0.90265,0.9007,0.89875,0.89685,0.8949,0.893,0.89105,0.8891,0.8872,0.88525,0.88335,0.8814,0.87945,0.87755]}}}},
{"data":{"values":[{"x":0,"x2":59,"a":0.9037,"b":0.90116}]},"mark":{"type":"rect","color":"#ffffff"},"encoding":{"x":{"field":"x","type":"quantitative","scale":{"domain":[-0.375,407.125]},"axis":null},"x2":{"field":"x2"},"y":{"field":"a","type":"quantitative","scale":{"domain":[0.87739,0.90439]}},"y2":{"field":"b"}}},
{"data":{"name":"ticks"},"mark":{"type":"text","align":"left","baseline":"middle","fontSize":9.2,"color":"#404040"},"encoding":{"x":{"field":"tx","type":"quantitative","scale":{"domain":[-0.375,407.125]},"axis":null},"y":{"field":"p","type":"quantitative","scale":{"domain":[0.87739,0.90439]}},"text":{"field":"t"}}},
{"data":{"name":"bars"},"mark":{"type":"rule","strokeWidth":1,"clip":true},"encoding":{"x":{"field":"i","type":"quantitative","scale":{"domain":[-0.375,407.125]},"axis":null},"y":{"field":"h","type":"quantitative","scale":{"domain":[0.87739,0.90439]}},"y2":{"field":"l"},"stroke":{"condition":{"test":"datum.c>=datum.o","value":"#00b4dc"},"value":"#404040"}}},
{"data":{"name":"ema"},"mark":{"type":"line","strokeWidth":1,"clip":true},"encoding":{"x":{"field":"i","type":"quantitative","scale":{"domain":[-0.375,407.125]},"axis":null},"y":{"field":"p","type":"quantitative","scale":{"domain":[0.87739,0.90439]}},"color":{"field":"s","type":"nominal","legend":null,"scale":{"domain":["50","100","200"],"range":["#ff0000","#008000","#000000"]}}}},
{"data":{"name":"bars"},"mark":{"type":"bar","orient":"vertical","size":2,"strokeWidth":1,"clip":true},"encoding":{"x":{"field":"i","type":"quantitative","scale":{"domain":[-0.375,407.125]},"axis":null},"y":{"field":"o","type":"quantitative","scale":{"domain":[0.87739,0.90439]}},"y2":{"field":"c"},"fill":{"condition":{"test":"datum.c>=datum.o","value":"#ffffff"},"value":"#404040"},"stroke":{"condition":{"test":"datum.c>=datum.o","value":"#00b4dc"},"value":"#404040"}}},
{"data":{"name":"trend"},"mark":{"type":"line","color":"#00b4dc","strokeWidth":2.4,"clip":true},"encoding":{"x":{"field":"i","type":"quantitative","scale":{"domain":[-0.375,407.125]},"axis":null},"y":{"field":"p","type":"quantitative","scale":{"domain":[0.87739,0.90439]}},"detail":{"field":"s"}}},
{"data":{"name":"paths"},"mark":{"type":"line","strokeWidth":2.6},"encoding":{"x":{"field":"i","type":"quantitative","scale":{"domain":[-0.375,407.125]},"axis":null},"y":{"field":"p","type":"quantitative","scale":{"domain":[0.87739,0.90439]}},"color":{"field":"s","type":"nominal","legend":null,"scale":{"domain":["up","down"],"range":["#00b4dc","#404040"]}}}},
{"data":{"name":"heads"},"mark":{"type":"area"},"encoding":{"x":{"field":"i","type":"quantitative","scale":{"domain":[-0.375,407.125]},"axis":null},"y":{"field":"p","type":"quantitative","scale":{"domain":[0.87739,0.90439]}},"y2":{"field":"q"},"color":{"field":"s","type":"nominal","legend":null,"scale":{"domain":["up","down"],"range":["#00b4dc","#404040"]}}}},
{"data":{"name":"boxes"},"mark":{"type":"rect"},"encoding":{"x":{"field":"x","type":"quantitative","scale":{"domain":[-0.375,407.125]},"axis":null},"x2":{"field":"x2"},"y":{"field":"a","type":"quantitative","scale":{"domain":[0.87739,0.90439]}},"y2":{"field":"b"},"color":{"field":"k","type":"nominal","legend":null,"scale":{"domain":["level","last"],"range":["#000000","#404040"]}}}},
{"data":{"name":"boxes"},"mark":{"type":"text","align":"left","baseline":"middle","fontSize":9.6,"color":"#ffffff"},"encoding":{"x":{"field":"tx","type":"quantitative","scale":{"domain":[-0.375,407.125]},"axis":null},"y":{"field":"p","type":"quantitative","scale":{"domain":[0.87739,0.90439]}},"text":{"field":"t"}}},
{"data":{"name":"notes"},"mark":{"type":"text","align":"left","baseline":"middle","font":"Lato","fontWeight":"bold","fontSize":14},"encoding":{"x":{"field":"i","type":"quantitative","scale":{"domain":[-0.375,407.125]},"axis":null},"y":{"field":"p","type":"quantitative","scale":{"domain":[0.87739,0.90439]}},"text":{"field":"t"},"color":{"field":"k","type":"nominal","legend":null,"scale":{"domain":["up","down","e50","e100","e200"],"range":["#00b4dc","#404040","#ed1c24","#22b14c","#000000"]}}}},
{"data":{"values":[{"i":3.7,"p":0.90392,"t":"EURGBP,H4  0.89759 0.89813 0.89738 0.89781"}]},"mark":{"type":"text","align":"left","baseline":"middle","fontSize":9.5,"color":"#404040"},"encoding":{"x":{"field":"i","type":"quantitative","scale":{"domain":[-0.375,407.125]},"axis":null},"y":{"field":"p","type":"quantitative","scale":{"domain":[0.87739,0.90439]}},"text":{"field":"t"}}},
{"data":{"values":[{"i":1.3,"p":0.90392}]},"mark":{"type":"point","shape":"triangle-down","filled":true,"size":26,"color":"#404040","opacity":1},"encoding":{"x":{"field":"i","type":"quantitative","scale":{"domain":[-0.375,407.125]},"axis":null},"y":{"field":"p","type":"quantitative","scale":{"domain":[0.87739,0.90439]}}}},
{"data":{"values":[{"i":1,"p":0.90146,"t":"JFD"}]},"mark":{"type":"text","align":"left","baseline":"alphabetic","font":"Liberation Sans","fontWeight":"bold","fontSize":41,"color":"#3c4653"},"encoding":{"x":{"field":"i","type":"quantitative","scale":{"domain":[-0.375,407.125]},"axis":null},"y":{"field":"p","type":"quantitative","scale":{"domain":[0.87739,0.90439]}},"text":{"field":"t"}}},
{"data":{"values":[{"i":24.7,"p":0.90216,"t":"BROKERS"}]},"mark":{"type":"text","align":"left","baseline":"alphabetic","font":"Liberation Serif","fontSize":29,"color":"#4a5460"},"encoding":{"x":{"field":"i","type":"quantitative","scale":{"domain":[-0.375,407.125]},"axis":null},"y":{"field":"p","type":"quantitative","scale":{"domain":[0.87739,0.90439]}},"text":{"field":"t"}}},
{"data":{"values":[{"i":24.7,"p":0.9014,"t":"JUST FAIR & DIRECT"}]},"mark":{"type":"text","align":"left","baseline":"alphabetic","font":"Liberation Serif","fontSize":12.6,"color":"#5a636e"},"encoding":{"x":{"field":"i","type":"quantitative","scale":{"domain":[-0.375,407.125]},"axis":null},"y":{"field":"p","type":"quantitative","scale":{"domain":[0.87739,0.90439]}},"text":{"field":"t"}}},
{"data":{"values":[{"i":21.7,"h":0.90345,"l":0.90146,"o":0.90281,"c":0.90216}]},"mark":{"type":"rule","color":"#4a5460","strokeWidth":1},"encoding":{"x":{"field":"i","type":"quantitative","scale":{"domain":[-0.375,407.125]},"axis":null},"y":{"field":"h","type":"quantitative","scale":{"domain":[0.87739,0.90439]}},"y2":{"field":"l"}}},
{"data":{"values":[{"i":21.7,"h":0.90345,"l":0.90146,"o":0.90281,"c":0.90216}]},"mark":{"type":"rule","color":"#3c4653","strokeWidth":3},"encoding":{"x":{"field":"i","type":"quantitative","scale":{"domain":[-0.375,407.125]},"axis":null},"y":{"field":"o","type":"quantitative","scale":{"domain":[0.87739,0.90439]}},"y2":{"field":"c"}}}
]},
{"width":1630,"height":98,"layer":[
{"data":{"values":[{"v":70},{"v":50},{"v":30}]},"mark":{"type":"rule","color":"#bdbdbd","strokeWidth":1,"strokeDash":[4,3]},"encoding":{"y":{"field":"v","type":"quantitative","scale":{"domain":[-1.3,101.9]},"axis":{"title":null,"orient":"right","values":[95.4,70,50,30,6],"labelExpr":"datum.value>90?'100':datum.value<10?'0':datum.label"}}}},
{"data":{"name":"rsi"},"mark":{"type":"line","color":"#00b4dc","strokeWidth":1},"encoding":{"x":{"field":"i","type":"quantitative","scale":{"domain":[-0.375,407.125]},"axis":null},"y":{"field":"v","type":"quantitative","scale":{"domain":[-1.3,101.9]}}}},
{"data":{"values":[{"i":263.1,"v":50}]},"mark":{"type":"point","shape":"circle","size":1963,"filled":false,"stroke":"#ed1c24","strokeWidth":1,"opacity":1},"encoding":{"x":{"field":"i","type":"quantitative","scale":{"domain":[-0.375,407.125]},"axis":null},"y":{"field":"v","type":"quantitative","scale":{"domain":[-1.3,101.9]}}}},
{"data":{"values":[{"i":271.5,"v":58.7,"t":"RSI slightly above 50, but flat"}]},"mark":{"type":"text","align":"left","baseline":"middle","font":"Lato","fontSize":14,"color":"#ed1c24"},"encoding":{"x":{"field":"i","type":"quantitative","scale":{"domain":[-0.375,407.125]},"axis":null},"y":{"field":"v","type":"quantitative","scale":{"domain":[-1.3,101.9]}},"text":{"field":"t"}}},
{"data":{"values":[{"i":1,"v":92.7,"t":"RSI(14) 54.8111"}]},"mark":{"type":"text","align":"left","baseline":"middle","fontSize":9.5,"color":"#404040"},"encoding":{"x":{"field":"i","type":"quantitative","scale":{"domain":[-0.375,407.125]},"axis":null},"y":{"field":"v","type":"quantitative","scale":{"domain":[-1.3,101.9]}},"text":{"field":"t"}}}
]},
{"width":1630,"height":86,"layer":[
{"data":{"name":"bars"},"mark":{"type":"rule","color":"#00b4dc","strokeWidth":1},"encoding":{"x":{"field":"i","type":"quantitative","scale":{"domain":[-0.375,407.125]},"axis":{"title":null,"labelPadding":4,"values":[0,16,32,48,64,80,96,112,128,144,160,176,192,208,224,240,256],"labelAlign":"left","labelExpr":"['25 Jun 2018','27 Jun 16:00','2 Jul 04:00','4 Jul 20:00','9 Jul 08:00','12 Jul 00:00','16 Jul 12:00','19 Jul 04:00','23 Jul 16:00','26 Jul 08:00','30 Jul 20:00','2 Aug 12:00','7 Aug 00:00','9 Aug 16:00','14 Aug 04:00','16 Aug 20:00','21 Aug 08:00'][round(datum.value/16)]"}},"y":{"field":"m","type":"quantitative","scale":{"domain":[-0.001473,0.003345]},"axis":{"title":null,"orient":"right","values":[0.003044,0,-0.0011],"labelExpr":"datum.value>0.001?'0.003044':datum.value<0?'-0.001343':'0.00'"}},"y2":{"datum":0}}},
{"data":{"name":"signal"},"mark":{"type":"line","color":"#000000","strokeWidth":1,"strokeDash":[2,3]},"encoding":{"x":{"field":"i","type":"quantitative","scale":{"domain":[-0.375,407.125]}},"y":{"field":"v","type":"quantitative","scale":{"domain":[-0.001473,0.003345]}}}},
{"data":{"values":[{"i":264.2,"v":0.000583}]},"mark":{"type":"point","shape":"circle","size":2206,"filled":false,"stroke":"#ed1c24","strokeWidth":1,"opacity":1},"encoding":{"x":{"field":"i","type":"quantitative","scale":{"domain":[-0.375,407.125]}},"y":{"field":"v","type":"quantitative","scale":{"domain":[-0.001473,0.003345]}}}},
{"data":{"values":[{"i":272.2,"v":0.001177,"t":"MACD positive, near its trigger line"}]},"mark":{"type":"text","align":"left","baseline":"middle","font":"Lato","fontSize":14,"color":"#ed1c24"},"encoding":{"x":{"field":"i","type":"quantitative","scale":{"domain":[-0.375,407.125]}},"y":{"field":"v","type":"quantitative","scale":{"domain":[-0.001473,0.003345]}},"text":{"field":"t"}}},
{"data":{"values":[{"i":1,"v":0.00286,"t":"MACD(12,26,9) 0.000677 0.000679"}]},"mark":{"type":"text","align":"left","baseline":"middle","fontSize":9.5,"color":"#404040"},"encoding":{"x":{"field":"i","type":"quantitative","scale":{"domain":[-0.375,407.125]}},"y":{"field":"v","type":"quantitative","scale":{"domain":[-0.001473,0.003345]}},"text":{"field":"t"}}}
]}
]}
